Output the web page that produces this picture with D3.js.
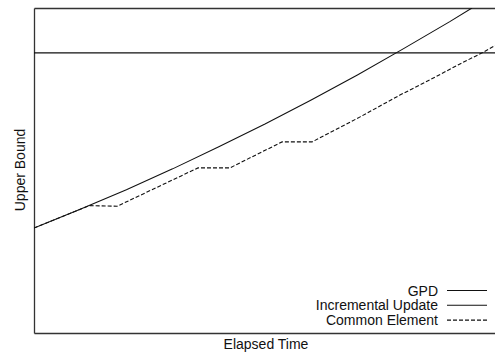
<!DOCTYPE html>
<html>
<head>
<meta charset="utf-8">
<script src="https://cdn.jsdelivr.net/npm/d3@7"></script>
<style>
  html, body { margin: 0; padding: 0; background: #fff; }
  svg { display: block; }
  text { font-family: "Liberation Sans", Arial, sans-serif; fill: #111; }
</style>
</head>
<body>
<div id="chart"></div>
<script>
// ---- data (arbitrary units 0..100) ----
const seriesNames = ["GPD", "Incremental Update", "Common Element"];

const gpdTime  = [0, 100];
const gpdValue = [86.2, 86.2];

const incrementalTime  = [0, 10, 20, 30, 40, 50, 60, 70, 80, 90, 94.8];
const incrementalValue = [32.3, 38.1, 44.1, 50.5, 57.3, 64.3, 71.7, 79.4, 87.5, 95.8, 100];

const commonTime  = [0, 12, 18, 35.5, 42.4, 53.7, 60.2, 70.6, 79.2, 86.1, 92.2, 97, 100];
const commonValue = [32.3, 39.2, 39.0, 50.8, 50.8, 58.8, 58.8, 66.5, 73.2, 78.2, 82.8, 86.2, 88.6];

const xLabel = "Elapsed Time";
const yLabel = "Upper Bound";

// ---- layout ----
const W = 495, H = 353;
const margin = {left: 34, top: 8, right: -1, bottom: 20};
const iw = W - margin.left - margin.right;
const ih = H - margin.top - margin.bottom;

const svg = d3.select("#chart").append("svg").attr("width", W).attr("height", H);
const g = svg.append("g").attr("transform", `translate(${margin.left},${margin.top})`);

const x = d3.scaleLinear().domain([0, 100]).range([0, iw]);
const y = d3.scaleLinear().domain([0, 100]).range([ih, 0]);

svg.append("defs").append("clipPath").attr("id", "clip")
  .append("rect").attr("x", 0).attr("y", 0).attr("width", iw).attr("height", ih);

// frame
const frameColor = "#333";
g.append("g").attr("transform", `translate(0,${ih})`)
  .call(d3.axisBottom(x).ticks(0).tickSizeOuter(0))
  .call(s => s.select(".domain").attr("stroke", frameColor).attr("stroke-width", 1.3));
g.append("g")
  .call(d3.axisLeft(y).ticks(0).tickSizeOuter(0))
  .call(s => s.select(".domain").attr("stroke", frameColor).attr("stroke-width", 1.3));
g.append("g")
  .call(d3.axisTop(x).ticks(0).tickSizeOuter(0))
  .call(s => s.select(".domain").attr("stroke", frameColor).attr("stroke-width", 1.3));

const line = d3.line().x(d => x(d[0])).y(d => y(d[1]));
const plot = g.append("g").attr("clip-path", "url(#clip)");

const series = [
  {name: seriesNames[0], pts: d3.zip(gpdTime, gpdValue), dash: null},
  {name: seriesNames[1], pts: d3.zip(incrementalTime, incrementalValue), dash: null},
  {name: seriesNames[2], pts: d3.zip(commonTime, commonValue), dash: "4,2"}
];

series.forEach(s => {
  plot.append("path").datum(s.pts)
    .attr("d", line)
    .attr("fill", "none")
    .attr("stroke", "#111")
    .attr("stroke-width", 1.1)
    .attr("stroke-dasharray", s.dash);
});

// legend
const leg = svg.append("g");
series.forEach((s, i) => {
  const by = 295.5 + i * 14.8;
  leg.append("text").attr("x", 438).attr("y", by)
    .attr("text-anchor", "end").attr("font-size", 14).text(s.name);
  leg.append("line").attr("x1", 447).attr("x2", 487)
    .attr("y1", by - 5).attr("y2", by - 5)
    .attr("stroke", "#111").attr("stroke-width", 1.1)
    .attr("stroke-dasharray", s.dash);
});

// axis labels
svg.append("text").attr("x", 266).attr("y", 348.5)
  .attr("text-anchor", "middle").attr("font-size", 14).text(xLabel);
svg.append("text")
  .attr("transform", `translate(25,170) rotate(-90)`)
  .attr("text-anchor", "middle").attr("font-size", 14).text(yLabel);
</script>
</body>
</html>
